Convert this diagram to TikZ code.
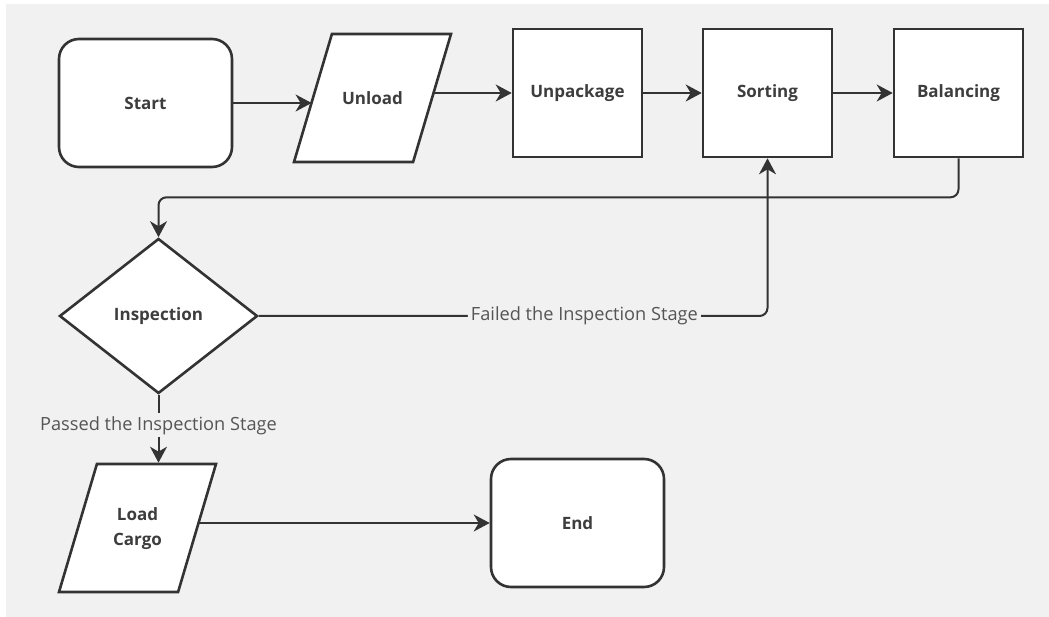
\documentclass[tikz,border=0pt]{standalone}
\usepackage{fontspec}
\setmainfont{Open Sans}
\usetikzlibrary{arrows.meta,shapes.geometric}

\definecolor{bg}{HTML}{F1F1F1}
\definecolor{ink}{HTML}{333333}
\definecolor{txt}{HTML}{3D3D3D}
\definecolor{lbl}{HTML}{555555}

\begin{document}
\begin{tikzpicture}[
        x=1pt, y=-1pt,
        every node/.style={font=\fontsize{18.2}{25}\selectfont, text=txt},
        block/.style={draw=ink, line width=2.6pt, fill=white, align=center,
            inner sep=0pt, font=\fontsize{17}{25}\selectfont\bfseries},
        terminal/.style={block, rounded corners=20pt,
            minimum width=173pt, minimum height=128pt},
        process/.style={block, minimum width=129pt, minimum height=128pt},
        io/.style={block, trapezium, trapezium left angle=73.5,
            trapezium right angle=106.5, trapezium stretches body=true,
            text height=13pt, text depth=0pt, inner ysep=57.5pt,
            minimum width=157pt},
        decision/.style={block, diamond, minimum width=198pt, minimum height=155pt},
        flow/.style={draw=ink, line width=2pt, ->,
            >={Stealth[length=16pt, width=17pt, inset=5pt]}},
        edge label/.style={fill=bg, text=lbl, inner sep=3pt},
    ]

    % page and backdrop
    \fill[white] (0,0) rectangle (1049,617);
    \fill[bg] (6,4) rectangle (1049,617);

    \node[terminal] (start) at (145.5,103) {Start};
    \node[io] (unload) at (372.5,98) {Unload};
    \node[process] (unpack) at (577.5,93) {Unpackage};
    \node[process] (sorting) at (767.5,93) {Sorting};
    \node[process] (balance) at (958.5,93) {Balancing};

    \node[decision] (inspect) at (158.5,316) {Inspection};

    \node[io, text height=38pt, text depth=4pt, inner ysep=43pt] (cargo)
        at (137.5,528) {Load\\Cargo};
    \node[terminal] (finish) at (577.5,523) {End};

    \draw[flow] (start.east) -- (start.east -| unload.west);
    \draw[flow] (unpack.west -| unload.east) -- (unpack.west);
    \draw[flow] (unpack) -- (sorting);
    \draw[flow] (sorting) -- (balance);

    \draw[flow, rounded corners=8pt] (balance.south) -- ++(0,39) -| (inspect.north);
    \draw[flow, rounded corners=8pt] (inspect.east) -|
        node[edge label, pos=0.32] {Failed the Inspection Stage} (sorting.south);
    \draw[flow] (inspect.south) --
        node[edge label, pos=0.45] {Passed the Inspection Stage} (inspect.south |- cargo.north);

    \draw[flow] (finish.west -| cargo.east) -- (finish.west);

\end{tikzpicture}
\end{document}
